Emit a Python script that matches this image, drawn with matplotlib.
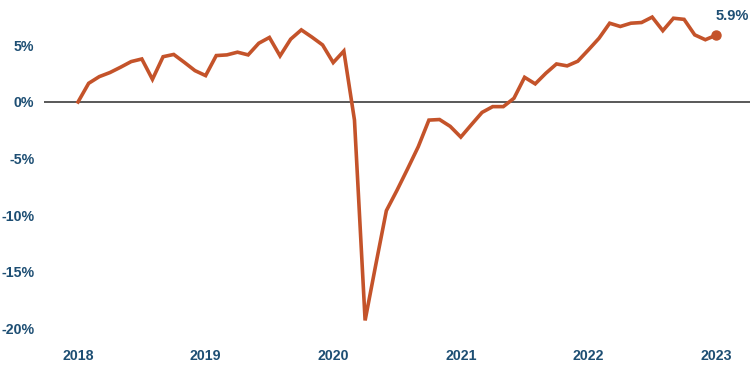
import matplotlib
matplotlib.use("Agg")
import matplotlib.pyplot as plt
import numpy as np

years = ["2018", "2019", "2020", "2021", "2022", "2023"]
y_ticks = [5, 0, -5, -10, -15, -20]
y_tick_labels = ["5%", "0%", "-5%", "-10%", "-15%", "-20%"]

values_2018 = [0.0, 1.65, 2.24, 2.6, 3.07, 3.57, 3.8, 2.0, 4.0, 4.2, 3.5, 2.77]
values_2019 = [2.33, 4.1, 4.16, 4.4, 4.16, 5.19, 5.7, 4.07, 5.55, 6.37, 5.73, 5.04]
values_2020 = [3.48, 4.5, -1.6, -19.3, -14.4, -9.6, -7.8, -5.9, -3.95, -1.6, -1.55, -2.15]
values_2021 = [-3.1, -2.0, -0.92, -0.41, -0.41, 0.33, 2.18, 1.6, 2.54, 3.36, 3.19, 3.6]
values_2022 = [4.6, 5.63, 6.96, 6.67, 6.96, 7.02, 7.5, 6.3, 7.4, 7.3, 5.93, 5.5]
values_2023 = [5.9]

values = values_2018 + values_2019 + values_2020 + values_2021 + values_2022 + values_2023
x = np.arange(len(values))

line_color = "#c4532a"
text_color = "#1d4e73"

fig = plt.figure(figsize=(7.5, 3.75), dpi=100)
ax = fig.add_axes([44/750, 30/375, 706/750, 345/375])

ax.axhline(0, color="#2b2b2b", lw=1.1, zorder=1)
ax.plot(x, values, color=line_color, lw=2.6, solid_joinstyle="miter", zorder=2)
ax.plot(x[-1], values[-1], "o", color=line_color, ms=6.5, zorder=3)
ax.annotate(f"{values[-1]:.1f}%", (x[-1], values[-1]), xytext=(0, 9),
            textcoords="offset points", ha="left", va="bottom",
            color=text_color, fontsize=10.5, fontweight="bold", family="Liberation Sans")

ax.set_xlim(-3.2, 63.2)
ax.set_ylim(-21.47, 9.01)
ax.set_xticks(np.arange(0, 61, 12))
ax.set_xticklabels(years)
ax.set_yticks(y_ticks)
ax.set_yticklabels(y_tick_labels)
for lab in ax.get_xticklabels() + ax.get_yticklabels():
    lab.set_fontfamily("Liberation Sans")
    lab.set_fontweight("bold")
    lab.set_fontsize(10.2)
    lab.set_color(text_color)
ax.tick_params(axis="y", length=0, pad=7)
ax.tick_params(axis="x", length=0, pad=3)
for s in ax.spines.values():
    s.set_visible(False)

fig.savefig("out.png", dpi=100)
